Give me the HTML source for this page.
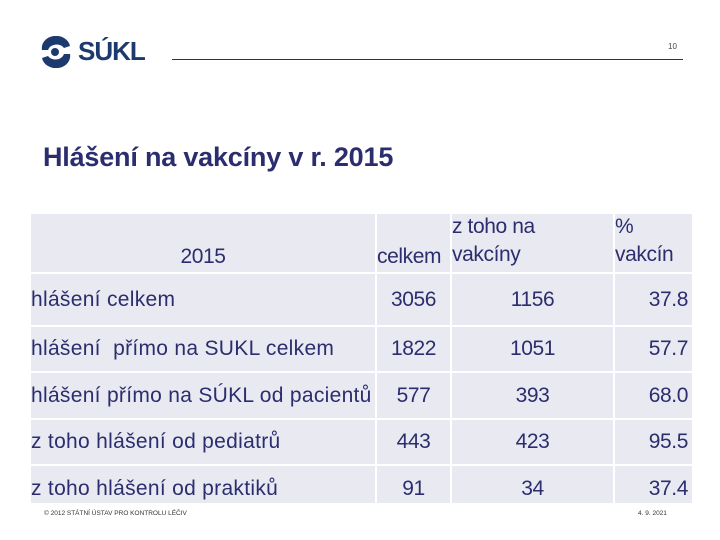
<!DOCTYPE html>
<html><head><meta charset="utf-8"><style>
body{margin:0;width:720px;height:540px;background:#fff;position:relative;overflow:hidden;font-family:"Liberation Sans",sans-serif;color:#2b2d6e}
.abs{position:absolute}
.c{position:absolute;background:#e9eaf1;font-size:21px;white-space:nowrap;letter-spacing:-0.4px;box-sizing:border-box;display:flex;align-items:center}
.l{letter-spacing:0.3px}
.n{justify-content:center}
.r{justify-content:flex-end;padding-right:4px}
</style></head><body>
<div class="abs" style="left:38px;top:36px;width:140px;height:32px">
<svg width="36" height="32" viewBox="0 0 36 32"><path d="M4 14 A14 12 0 0 1 32 10 L26 12 A9 8 0 0 0 10 14Z" fill="#1d3a6e"/><path d="M32 18 A14 12 0 0 1 4 22 L10 20 A9 8 0 0 0 26 18Z" fill="#1d3a6e"/><circle cx="17" cy="16" r="4" fill="#1d3a6e"/></svg>
<span class="abs" style="left:40px;top:0;font-size:26px;font-weight:bold;color:#1d3a6e;letter-spacing:-1px">SÚKL</span>
</div>
<div class="abs" style="left:668px;top:42px;font-size:8px;color:#444">10</div>
<div class="abs" style="left:172px;top:59px;width:511px;height:1px;background:#333"></div>
<div class="abs" style="left:43px;top:142px;font-size:27px;font-weight:bold;color:#2b2d6e;letter-spacing:-0.2px">Hlášení na vakcíny v r. 2015</div>

<div>
<div class="c" style="left:31px;top:214px;width:344px;height:58px;justify-content:center;align-items:flex-end;padding-bottom:3px">2015</div>
<div class="c" style="left:377px;top:214px;width:73px;height:58px;align-items:flex-end;padding:0 0 3px 0">celkem</div>
<div class="c" style="left:452px;top:214px;width:161px;height:58px;align-items:flex-end;padding:0 0 3px 0;line-height:28px;white-space:normal">z toho na<br>vakcíny</div>
<div class="c" style="left:615px;top:214px;width:77px;height:58px;align-items:flex-end;padding:0 0 3px 0;line-height:28px">%<br>vakcín</div>

<div class="c l" style="left:31px;top:274px;width:344px;height:51px">hlášení celkem</div>
<div class="c n" style="left:377px;top:274px;width:73px;height:51px">3056</div>
<div class="c n" style="left:452px;top:274px;width:161px;height:51px">1156</div>
<div class="c r" style="left:615px;top:274px;width:77px;height:51px">37.8</div>

<div class="c l" style="left:31px;top:327px;width:344px;height:44px">hlášení &nbsp;přímo na SUKL celkem</div>
<div class="c n" style="left:377px;top:327px;width:73px;height:44px">1822</div>
<div class="c n" style="left:452px;top:327px;width:161px;height:44px">1051</div>
<div class="c r" style="left:615px;top:327px;width:77px;height:44px">57.7</div>

<div class="c l" style="left:31px;top:373px;width:344px;height:45px">hlášení přímo na SÚKL od pacientů</div>
<div class="c n" style="left:377px;top:373px;width:73px;height:45px">577</div>
<div class="c n" style="left:452px;top:373px;width:161px;height:45px">393</div>
<div class="c r" style="left:615px;top:373px;width:77px;height:45px">68.0</div>

<div class="c l" style="left:31px;top:420px;width:344px;height:44px">z toho hlášení od pediatrů</div>
<div class="c n" style="left:377px;top:420px;width:73px;height:44px">443</div>
<div class="c n" style="left:452px;top:420px;width:161px;height:44px">423</div>
<div class="c r" style="left:615px;top:420px;width:77px;height:44px">95.5</div>

<div class="c l" style="left:31px;top:466px;width:344px;height:37px;align-items:flex-start;padding-top:11px">z toho hlášení od praktiků</div>
<div class="c n" style="left:377px;top:466px;width:73px;height:37px;align-items:flex-start;padding-top:11px">91</div>
<div class="c n" style="left:452px;top:466px;width:161px;height:37px;align-items:flex-start;padding-top:11px">34</div>
<div class="c r" style="left:615px;top:466px;width:77px;height:37px;align-items:flex-start;padding-top:11px">37.4</div>
</div>
<div class="abs" style="left:44px;top:510px;font-size:6.5px;color:#333">© 2012 STÁTNÍ ÚSTAV PRO KONTROLU LÉČIV</div>
<div class="abs" style="left:638px;top:510px;font-size:6.5px;color:#333">4. 9. 2021</div>
</body></html>
